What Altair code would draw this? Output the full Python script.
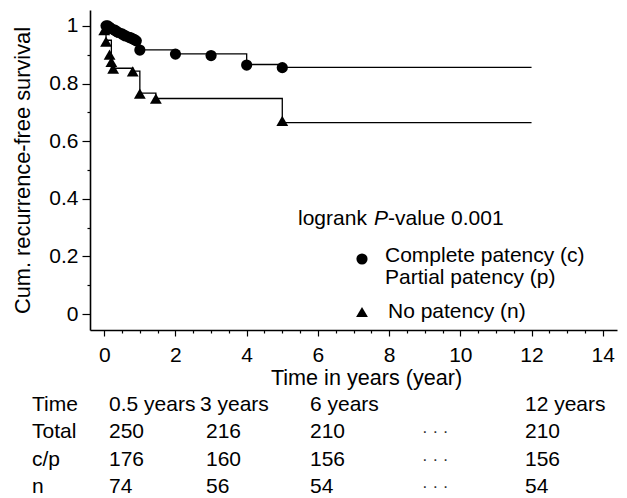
import altair as alt
import pandas as pd

# ---------------- data ----------------
# Complete / partial patency (circles)
cp_mark_t = [0.05, 0.1, 0.15, 0.2, 0.3, 0.35, 0.4, 0.5, 0.55, 0.6, 0.7, 0.75, 0.8, 0.85, 0.9, 1.0, 2.0, 3.0, 4.0, 5.0]
cp_mark_v = [1.0, 1.0, 0.995, 0.99, 0.985, 0.98, 0.977, 0.972, 0.968, 0.965, 0.96, 0.958, 0.955, 0.952, 0.948, 0.916, 0.902, 0.897, 0.864, 0.855]
cp_step_t = [0, 0.1, 0.3, 0.5, 0.7, 0.9, 1.0, 2.0, 4.0, 5.0, 12]
cp_step_v = [1.0, 0.99, 0.98, 0.97, 0.96, 0.95, 0.917, 0.903, 0.866, 0.856, 0.856]

# No patency (triangles)
n_mark_t = [0.0, 0.05, 0.15, 0.2, 0.25, 0.8, 1.0, 1.45, 5.0]
n_mark_v = [0.985, 0.945, 0.9, 0.875, 0.852, 0.842, 0.765, 0.748, 0.67]
n_step_t = [0, 0.05, 0.2, 0.8, 1.0, 1.45, 5.0, 12]
n_step_v = [1.0, 0.95, 0.853, 0.843, 0.767, 0.748, 0.664, 0.664]

x_ticks = [i * 0.5 for i in range(29)]
y_ticks = [round(i * 0.1, 1) for i in range(11)]

table_rows = ["Time", "Total", "c/p", "n"]
table_head = ["0.5 years", "3 years", "6 years", "", "12 years"]
DOTS = "\u00b7 \u00b7 \u00b7"
table_total = ["250", "216", "210", DOTS, "210"]
table_cp = ["176", "160", "156", DOTS, "156"]
table_n = ["74", "56", "54", DOTS, "54"]

legend_lines = ["Complete patency (c)", "Partial patency (p)", "No patency (n)"]

# ---------------- layout ----------------
FONT = "Liberation Sans"
FS = 21
W, H = 527, 320
col_head_x = [19, 110, 220, 330, 435]
col_body_x = [19, 116, 220, 332, 435]
row_label_x = -58
row_y = [395, 422, 450, 477]

cp_marks = pd.DataFrame({"t": cp_mark_t, "v": cp_mark_v})
cp_steps = pd.DataFrame({"t": cp_step_t, "v": cp_step_v})
n_marks = pd.DataFrame({"t": n_mark_t, "v": n_mark_v})
n_steps = pd.DataFrame({"t": n_step_t, "v": n_step_v})

xaxis = alt.Axis(
    values=x_ticks, format="~g",
    labelExpr="datum.value % 2 === 0 ? datum.label : ''",
    tickSize={"condition": {"test": "datum.value % 2 === 0", "value": 6}, "value": 3},
    title="Time in years (year)", titlePadding=2, labelPadding=8,
    titleX=276, titleAlign="center", titleFontSize=21.6,
    labelOverlap=False, labelFlush=False,
)
yaxis = alt.Axis(
    values=y_ticks, format="~g",
    labelExpr="round(datum.value * 10) % 2 === 0 ? datum.label : ''",
    tickSize={"condition": {"test": "round(datum.value * 10) % 2 === 0", "value": 8}, "value": 3},
    title="Cum. recurrence-free survival", titlePadding=14, labelPadding=4,
    titleFontSize=21.8,
    labelOverlap=False, labelFlush=False,
)
X = alt.X("t:Q", scale=alt.Scale(domain=[-0.4, 14.4], nice=False, zero=False), axis=xaxis)
Y = alt.Y("v:Q", scale=alt.Scale(domain=[-0.055, 1.055], nice=False, zero=False), axis=yaxis)

cp_line = alt.Chart(cp_steps).mark_line(interpolate="step-after", color="black", strokeWidth=1.3).encode(x=X, y=Y)
n_line = alt.Chart(n_steps).mark_line(interpolate="step-after", color="black", strokeWidth=1.3).encode(x=X, y=Y)
cp_pts = alt.Chart(cp_marks).mark_point(shape="circle", filled=True, size=125, color="black", opacity=1).encode(x=X, y=Y)
n_pts = alt.Chart(n_marks).mark_point(shape="triangle-up", filled=True, size=140, color="black", opacity=1).encode(x=X, y=Y)

one = alt.Data(values=[{"k": 1}])


def txt(s, x, y, **kw):
    opts = dict(align="left", baseline="middle", font=FONT, fontSize=FS, color="black")
    opts.update(kw)
    return alt.Chart(one).mark_text(text=s, **opts).encode(x=alt.value(x), y=alt.value(y))


ann = [
    txt("logrank", 208, 209),
    txt("P", 284, 209, fontStyle="italic"),
    txt("-value 0.001", 298, 209),
    txt(legend_lines[0], 295, 246),
    txt(legend_lines[1], 295, 268),
    txt(legend_lines[2], 298, 302),
    alt.Chart(one).mark_point(shape="circle", filled=True, size=125, color="black", opacity=1).encode(
        x=alt.value(272), y=alt.value(249)),
    alt.Chart(one).mark_point(shape="triangle-up", filled=True, size=140, color="black", opacity=1).encode(
        x=alt.value(272), y=alt.value(302)),
]

table = []
for i, lab in enumerate(table_rows):
    table.append(txt(lab, row_label_x, row_y[i]))
for j, h in enumerate(table_head):
    if h:
        table.append(txt(h, col_head_x[j], row_y[0]))
for i, row in enumerate([table_total, table_cp, table_n]):
    for j, s in enumerate(row):
        if s == DOTS:
            table.append(txt(s, col_body_x[j], row_y[i + 1], fontSize=17, color="#333333"))
        else:
            table.append(txt(s, col_body_x[j], row_y[i + 1]))

chart = alt.layer(cp_line, n_line, cp_pts, n_pts, *ann, *table).properties(
    width=W, height=H,
    autosize=alt.AutoSizeParams(type="none"),
    padding={"left": 90, "top": 10, "right": 10, "bottom": 168},
).configure_view(stroke="transparent").configure_axis(
    grid=False, labelFont=FONT, titleFont=FONT, labelFontSize=FS,
    titleFontWeight="normal", labelColor="black", titleColor="black",
    domainColor="black", domainWidth=1.6, tickColor="black", tickWidth=1.2,
)

chart.save("out.html", embed_options={"renderer": "svg", "actions": False})
